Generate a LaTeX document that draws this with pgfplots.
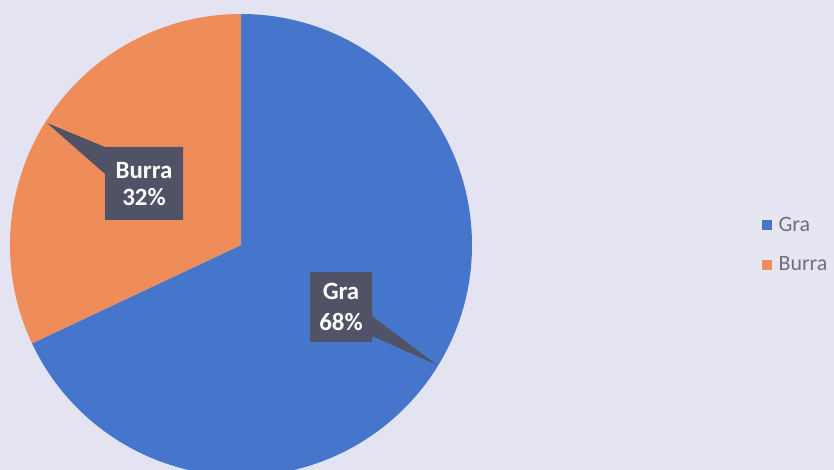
\documentclass[border=0pt]{standalone}
\usepackage{pgfplots}
\pgfplotsset{compat=1.18}
\usepackage{fontspec}
\setmainfont{Carlito}

\definecolor{bg}{HTML}{E3E3F1}
\definecolor{legbg}{HTML}{E6E6F3}
\definecolor{gra}{HTML}{4676CC}
\definecolor{burra}{HTML}{EE8C5A}
\definecolor{callout}{HTML}{505266}
\definecolor{legtext}{HTML}{6E6E7E}

% shares in percent
\def\valGra{68}
\def\valBurra{32}

\begin{document}
\begin{tikzpicture}
\pgfmathsetmacro\angGra{90-3.6*\valGra}
\pgfmathsetmacro\angBurra{\angGra-3.6*\valBurra}
\begin{axis}[
  at={(0,0)}, anchor=south west,
  scale only axis, width=834bp, height=470bp,
  xmin=0, xmax=834, ymin=0, ymax=470, y dir=reverse,
  hide axis, clip=true,
  legend style={at={(axis description cs:0.913,0.479)}, anchor=west,
    draw=none, fill=none, text=legtext,
    font=\fontsize{22}{26}\selectfont, row sep=20bp, inner sep=0pt},
  legend cell align=left,
  legend image code/.code={\fill[#1] (0bp,-5bp) rectangle (10bp,5bp);
    \path (15bp,0bp);},
]
\fill[bg] (axis cs:0,0) rectangle (axis cs:834,470);
\fill[legbg] (axis cs:752,198) rectangle (axis cs:834,290);

% slices, clockwise from 12 o'clock
\fill[gra] (axis cs:241,245) -- ++(90:231bp)
  arc[start angle=90, end angle=\angGra, radius=231bp] -- cycle;
\fill[burra] (axis cs:241,245) -- ++(\angGra:231bp)
  arc[start angle=\angGra, end angle=\angBurra, radius=231bp] -- cycle;

% data callouts
\fill[callout] (axis cs:47,123) -- (axis cs:105,147) -- (axis cs:183,147)
  -- (axis cs:183,220) -- (axis cs:105,220) -- (axis cs:105,174) -- cycle;
\node[text=white, font=\bfseries\fontsize{25}{27}\selectfont, align=center]
  at (axis cs:144,184) {Burra\\32\%};
\fill[callout] (axis cs:310,272) -- (axis cs:372,272) -- (axis cs:372,316)
  -- (axis cs:437,365) -- (axis cs:372,336) -- (axis cs:372,342)
  -- (axis cs:310,342) -- cycle;
\node[text=white, font=\bfseries\fontsize{25}{31}\selectfont, align=center]
  at (axis cs:341,307) {Gra\\68\%};

\addlegendimage{fill=gra, draw=none}
\addlegendentry{Gra}
\addlegendimage{fill=burra, draw=none}
\addlegendentry{Burra}
\end{axis}
\end{tikzpicture}
\end{document}
